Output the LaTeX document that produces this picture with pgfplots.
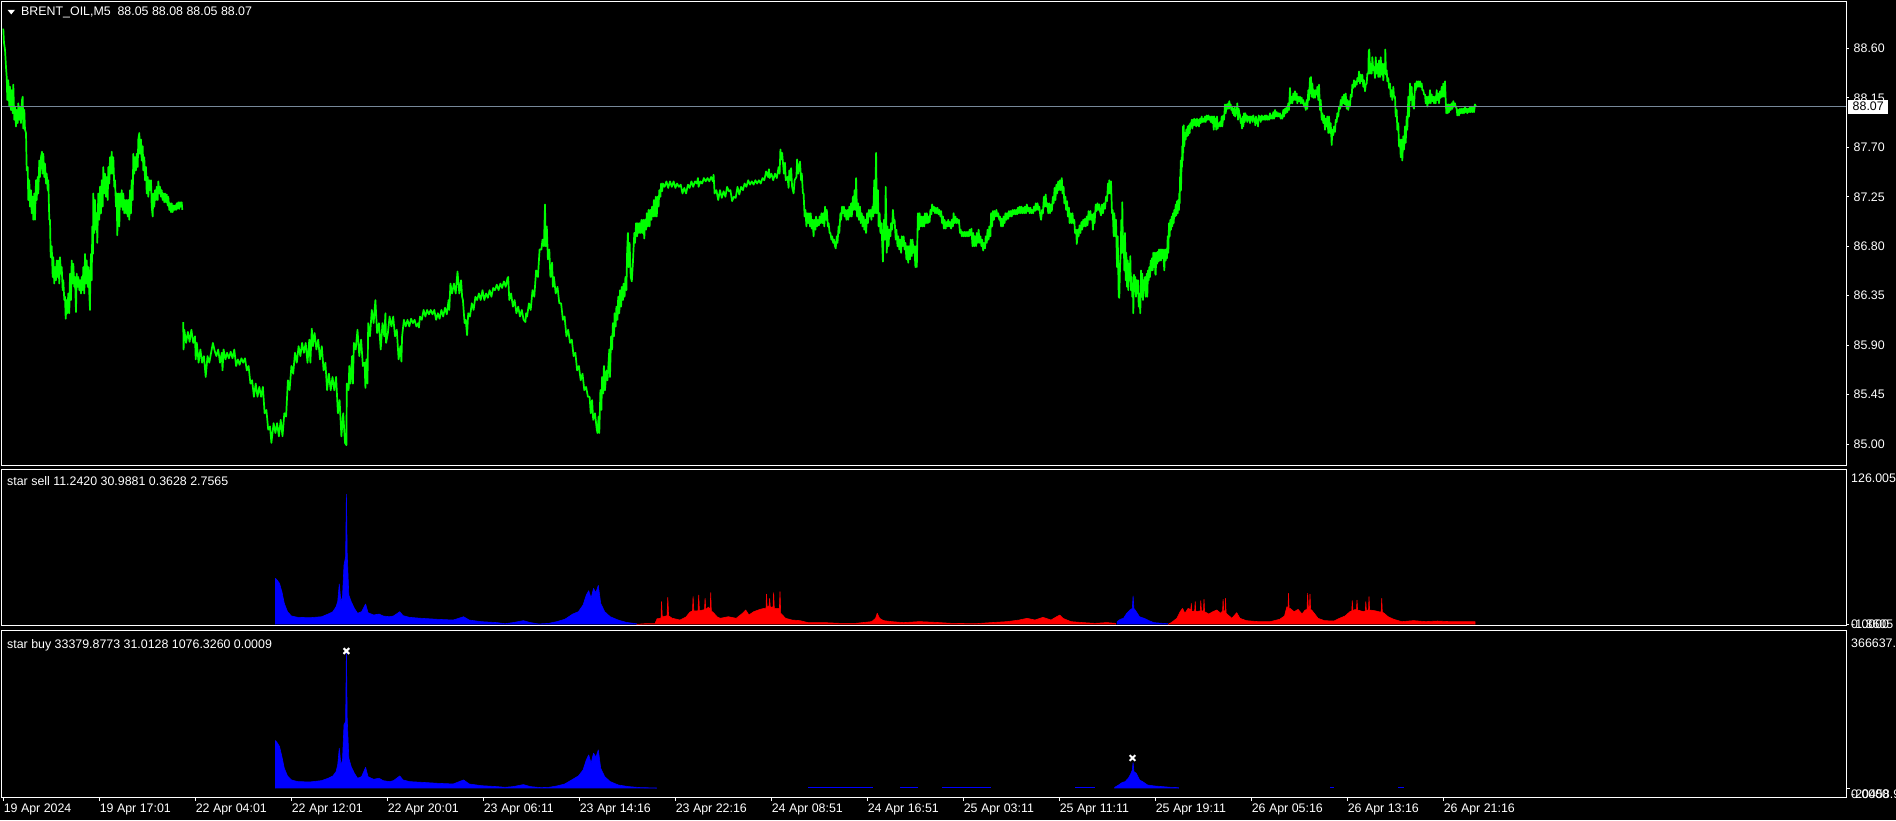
\documentclass[border=0pt]{standalone}
\usepackage{fontspec}
\setmainfont{Liberation Sans}
\usepackage{pgfplots}
\pgfplotsset{compat=1.18}
\definecolor{mtgreen}{RGB}{0,255,0}
\definecolor{mtblue}{RGB}{0,0,255}
\definecolor{mtred}{RGB}{255,0,0}
\definecolor{bidgray}{RGB}{119,136,153}
\newcommand\mtfont{\fontsize{12.4}{14}\selectfont}

\pgfplotsset{
  mtpanel/.style={
    scale only axis, width=1844pt, xmin=2, xmax=1846,
    axis line style={white, line width=1pt},
    axis background/.style={fill=black},
    tick style={white, line width=0.8pt},
    major tick length=3pt, tick align=outside,
    ytick pos=right, yticklabel pos=right, xtick=\empty,
    scaled y ticks=false,
    clip mode=individual,
    tick label style={font=\mtfont, text=white},
    yticklabel style={anchor=west, inner sep=0pt, xshift=4.5pt},
  },
}

\begin{document}
\begin{tikzpicture}
\useasboundingbox (0,0) rectangle (1896pt,820pt);
\fill[black] (0,0) rectangle (1896pt,820pt);

% ---------- price panel ----------
\begin{axis}[mtpanel, at={(2pt,354pt)}, anchor=south west, height=464pt,
    ymin=84.80, ymax=89.022,
    ytick={85.00,85.45,85.90,86.35,86.80,87.25,87.70,88.15,88.60},
    yticklabel style={/pgf/number format/fixed, /pgf/number format/fixed zerofill,
      /pgf/number format/precision=2, /pgf/number format/assume math mode=true}]
\addplot[mtgreen, line width=1.7pt, line join=round] coordinates {
(3.3,88.78)(4.0,88.65)(5.0,88.59)(6.0,88.43)(6.7,88.34)(7.3,88.13)(8.3,88.31)(9.3,88.07)(10.0,88.25)(11.0,88.04)(11.7,88.22)(12.7,88.01)(13.3,88.27)(14.3,87.95)(15.0,88.07)(16.0,87.89)(16.7,88.04)(17.7,87.92)(18.3,88.10)(19.3,87.95)(20.0,88.07)(21.0,87.92)(22.0,88.13)(22.7,88.16)(23.3,87.87)(24.3,88.04)(25.0,87.86)(26.0,87.83)(26.7,87.49)(27.7,87.52)(28.3,87.22)(29.3,87.40)(30.0,87.16)(31.0,87.31)(31.7,87.10)(32.7,87.25)(33.3,87.04)(34.3,87.28)(35.0,87.04)(36.0,87.40)(36.7,87.22)(37.7,87.43)(38.3,87.28)(39.3,87.58)(40.0,87.43)(41.0,87.61)(42.0,87.66)(42.7,87.46)(43.3,87.64)(44.3,87.43)(45.0,87.55)(46.0,87.37)(46.7,87.46)(47.7,87.31)(48.3,87.40)(49.3,87.04)(50.0,87.04)(50.7,86.70)(51.7,86.80)(52.7,86.52)(53.3,86.70)(54.3,86.46)(55.0,86.61)(56.0,86.49)(56.7,86.67)(57.7,86.52)(58.3,86.67)(59.3,86.46)(60.0,86.70)(61.0,86.55)(61.7,86.61)(62.7,86.40)(63.3,86.49)(64.3,86.31)(65.0,86.34)(65.7,86.14)(66.7,86.31)(67.3,86.19)(68.3,86.37)(69.3,86.19)(70.0,86.55)(71.0,86.31)(71.7,86.67)(72.7,86.46)(73.3,86.64)(74.3,86.43)(75.0,86.52)(76.0,86.20)(76.7,86.55)(77.7,86.43)(78.3,86.52)(79.3,86.40)(80.0,86.49)(81.0,86.37)(81.7,86.52)(82.7,86.40)(83.3,86.61)(84.3,86.37)(85.0,86.73)(86.0,86.46)(86.7,86.67)(87.7,86.43)(88.3,86.61)(89.3,86.37)(90.0,86.22)(90.3,86.52)(91.0,86.73)(91.7,86.49)(92.3,86.98)(93.0,86.73)(93.3,87.28)(94.3,86.92)(95.0,87.22)(96.0,86.95)(96.7,87.10)(97.3,86.83)(98.3,87.28)(99.3,87.04)(100.0,87.34)(101.0,87.10)(101.7,87.40)(102.7,87.16)(103.3,87.52)(104.3,87.28)(105.0,87.46)(106.0,87.25)(106.7,87.43)(107.7,87.22)(108.3,87.52)(109.3,87.37)(110.0,87.61)(111.0,87.46)(111.7,87.66)(112.7,87.46)(113.3,87.61)(114.3,87.34)(115.0,87.40)(116.0,87.16)(116.7,87.28)(117.3,86.90)(118.3,87.28)(119.3,86.98)(120.0,87.28)(121.0,87.16)(121.7,87.31)(122.7,87.13)(123.3,87.28)(124.3,87.10)(125.0,87.22)(126.0,87.10)(126.7,87.22)(127.7,87.07)(128.3,87.22)(129.3,87.04)(130.0,87.31)(131.0,87.10)(131.7,87.40)(132.7,87.22)(133.3,87.64)(134.3,87.46)(135.0,87.61)(136.0,87.49)(136.7,87.64)(137.7,87.52)(138.3,87.77)(139.3,87.83)(140.0,87.64)(141.0,87.77)(141.7,87.58)(142.7,87.71)(143.3,87.49)(144.3,87.61)(145.0,87.40)(146.0,87.52)(146.7,87.28)(147.7,87.43)(148.3,87.25)(149.3,87.40)(150.0,87.31)(151.0,87.40)(151.7,87.16)(152.7,87.07)(153.3,87.28)(154.3,87.16)(155.0,87.31)(156.0,87.22)(156.7,87.34)(157.7,87.22)(158.3,87.39)(159.3,87.28)(160.0,87.34)(161.0,87.25)(161.7,87.31)(162.7,87.22)(163.3,87.28)(164.3,87.20)(165.0,87.28)(166.0,87.20)(166.7,87.27)(167.7,87.17)(168.3,87.25)(169.3,87.13)(170.0,87.19)(171.0,87.11)(171.7,87.19)(172.7,87.11)(173.3,87.17)(174.3,87.13)(175.0,87.17)(176.0,87.13)(176.7,87.19)(177.7,87.14)(178.3,87.20)(179.3,87.14)(180.0,87.20)(181.0,87.16)(181.7,87.20)(182.3,87.13)
};
\addplot[mtgreen, line width=1.7pt, line join=round] coordinates {
(183.2,86.11)(183.6,85.86)(184.3,86.04)(186.1,85.92)(187.9,86.02)(189.6,85.93)(191.4,86.04)(193.2,85.92)(195.0,85.98)(195.7,85.77)(196.8,85.92)(198.6,85.74)(200.4,85.86)(202.1,85.74)(203.9,85.80)(205.7,85.61)(207.5,85.80)(209.3,85.74)(211.1,85.83)(212.9,85.92)(214.6,85.85)(216.4,85.80)(218.2,85.86)(220.0,85.74)(221.8,85.83)(222.5,85.67)(223.6,85.86)(225.4,85.77)(227.1,85.83)(228.9,85.78)(230.7,85.84)(232.5,85.78)(234.3,85.86)(236.1,85.71)(237.9,85.77)(239.6,85.72)(241.4,85.78)(243.2,85.74)(245.0,85.78)(246.8,85.67)(248.6,85.71)(250.4,85.55)(252.1,85.58)(253.9,85.43)(255.7,85.55)(257.5,85.43)(259.3,85.52)(261.1,85.43)(262.9,85.52)(264.6,85.28)(266.4,85.31)(268.2,85.13)(270.0,85.16)(271.4,85.01)(273.6,85.19)(275.4,85.10)(277.1,85.19)(278.9,85.07)(280.7,85.22)(282.5,85.07)(284.3,85.28)(286.1,85.25)(287.9,85.58)(289.6,85.49)(291.4,85.71)(293.2,85.64)(295.0,85.83)(296.8,85.74)(298.6,85.89)(300.4,85.80)(302.1,85.92)(303.9,85.83)(305.7,85.92)(307.5,85.74)(309.3,85.95)(310.4,85.74)(311.8,86.05)(312.9,85.89)(314.6,86.01)(316.4,85.86)(318.2,85.95)(320.0,85.77)(321.8,85.89)(323.6,85.67)(325.4,85.74)(327.1,85.49)(328.9,85.64)(330.7,85.49)(332.5,85.61)(334.3,85.49)(336.1,85.61)(337.9,85.28)(339.6,85.40)(341.4,85.07)(343.2,85.28)(345.0,85.01)(346.4,84.99)(346.8,85.55)(348.6,85.49)(349.3,85.71)(350.4,85.55)(352.1,85.80)(352.9,85.55)(353.9,85.92)(355.7,85.86)(357.5,86.04)(359.3,85.80)(361.1,85.95)(362.9,85.71)(364.6,85.74)(365.4,85.51)(366.4,85.77)(367.5,85.55)(368.2,86.10)(370.0,85.98)(371.8,86.22)(373.6,86.10)(375.4,86.31)(377.1,86.01)(378.9,86.10)(380.7,85.86)(382.5,86.10)(384.3,85.98)(385.4,86.19)(386.1,85.92)(387.9,86.01)(389.6,86.16)(391.4,86.07)(393.2,86.16)(395.0,85.98)(396.8,86.04)(398.6,85.77)(400.4,85.89)(401.4,85.75)(402.1,85.98)(403.9,86.13)(405.7,86.07)(407.5,86.13)(409.3,86.07)(411.1,86.14)(412.9,86.10)(414.6,86.13)(416.4,86.07)(418.2,86.10)(418.9,86.06)(420.0,86.16)(421.8,86.13)(423.6,86.22)(425.4,86.16)(427.1,86.22)(428.9,86.18)(430.7,86.22)(432.5,86.18)(434.3,86.22)(436.1,86.13)(437.9,86.19)(439.6,86.14)(441.4,86.22)(443.2,86.16)(445.0,86.24)(446.8,86.18)(448.6,86.31)(449.3,86.22)(450.4,86.46)(452.1,86.37)(453.9,86.46)(455.7,86.37)(457.5,86.57)(459.3,86.37)(461.1,86.49)(462.1,86.34)(462.9,86.31)(464.6,86.10)(465.7,86.13)(467.1,85.99)(468.2,86.19)(470.0,86.16)(471.8,86.28)(473.6,86.22)(475.4,86.34)(477.1,86.31)(478.9,86.37)(480.7,86.31)(482.5,86.40)(484.3,86.31)(486.1,86.37)(487.9,86.33)(489.6,86.40)(491.4,86.34)(493.2,86.42)(495.0,86.40)(496.8,86.45)(498.6,86.40)(500.4,86.46)(502.1,86.42)(503.9,86.48)(505.7,86.43)(507.5,86.51)(508.2,86.52)(509.3,86.31)(511.1,86.37)(512.9,86.25)(514.6,86.31)(516.4,86.19)(518.2,86.25)(520.0,86.16)(521.8,86.22)(523.6,86.13)(525.4,86.11)(526.1,86.19)(527.1,86.16)(528.9,86.28)(530.7,86.22)(532.5,86.40)(534.3,86.34)(536.1,86.58)(537.9,86.52)(539.6,86.77)(541.4,86.77)(542.5,86.86)(543.9,86.80)(545.0,87.18)(545.7,86.80)(546.8,86.98)(547.9,86.68)(549.3,86.77)(550.4,86.52)(552.1,86.65)(552.9,86.43)(553.9,86.52)(555.7,86.37)(557.5,86.43)(559.3,86.28)(561.1,86.28)(562.9,86.13)(564.6,86.16)(566.4,85.98)(568.2,86.04)(570.0,85.92)(571.8,85.95)(573.6,85.80)(575.4,85.83)(577.1,85.67)(578.9,85.71)(580.7,85.58)(582.5,85.64)(584.3,85.49)(586.1,85.52)(587.9,85.43)(589.6,85.43)(590.7,85.28)(592.1,85.40)(593.2,85.22)(595.0,85.28)(596.8,85.13)(597.5,85.10)(598.6,85.25)(599.3,85.10)(600.4,85.49)(601.4,85.31)(602.1,85.61)(603.2,85.46)(603.9,85.71)(605.0,85.49)(606.4,85.67)(607.5,85.58)(609.3,85.86)(610.0,85.61)(611.1,85.98)(612.1,85.86)(612.9,86.10)(614.0,85.98)(614.6,86.19)(615.7,86.07)(616.4,86.25)(617.5,86.13)(618.2,86.34)(619.3,86.19)(620.0,86.40)(621.1,86.25)(621.8,86.43)(622.9,86.31)(623.6,86.46)(624.6,86.34)(625.4,86.52)(626.4,86.40)(627.1,86.74)(627.9,86.92)(628.6,86.61)(629.6,86.83)(630.7,86.52)(631.8,86.48)(632.9,86.65)(634.3,86.92)(635.0,86.83)(636.1,87.01)(637.1,86.89)(637.9,87.01)(638.9,86.92)(639.6,87.01)(640.7,86.92)(641.4,87.04)(642.5,86.92)(643.2,87.04)(644.3,86.87)(645.0,87.04)(646.1,86.95)(646.8,87.10)(647.9,86.98)(648.6,87.13)(649.6,86.98)(650.4,87.13)(651.4,87.04)(652.1,87.16)(653.2,87.07)(653.9,87.22)(655.0,87.07)(655.7,87.25)(656.8,87.07)(657.5,87.25)(658.6,87.16)(659.3,87.31)(660.4,87.25)(661.1,87.37)(662.1,87.30)(662.9,87.37)(664.6,87.34)(666.4,87.39)(668.2,87.33)(670.0,87.39)(671.8,87.34)(673.6,87.39)(675.4,87.33)(677.1,87.37)(678.9,87.34)(680.7,87.36)(682.5,87.28)(684.3,87.33)(686.1,87.28)(687.9,87.36)(689.6,87.33)(691.4,87.39)(693.2,87.34)(695.0,87.39)(696.8,87.37)(697.9,87.42)(698.6,87.34)(700.4,87.39)(702.1,87.37)(703.9,87.42)(705.7,87.39)(707.5,87.42)(709.3,87.39)(711.1,87.43)(712.9,87.39)(713.6,87.45)(714.6,87.28)(716.4,87.31)(718.2,87.22)(720.0,87.31)(721.8,87.24)(723.6,87.30)(725.4,87.25)(727.1,87.34)(728.9,87.30)
(730.4,87.31)(732.1,87.21)(733.9,87.25)(735.7,87.24)(737.5,87.34)(739.3,87.27)(741.1,87.34)(742.9,87.31)(744.6,87.37)(746.4,87.34)(748.2,87.40)(750.0,87.36)(751.8,87.39)(753.6,87.36)(755.4,87.40)(757.1,87.37)(758.9,87.40)(760.7,87.37)(762.5,87.42)(764.3,87.40)(766.1,87.48)(767.9,87.43)(768.9,87.50)(769.6,87.42)(771.4,87.46)(773.2,87.40)(775.0,87.46)(776.8,87.42)(778.6,87.52)(779.6,87.46)(780.4,87.68)(781.4,87.59)(782.1,87.65)(783.9,87.46)(785.0,87.56)(785.7,87.40)(787.5,87.43)(788.6,87.33)(789.3,87.49)(790.4,87.40)(791.1,87.51)(792.1,87.34)(793.6,87.28)(794.6,87.40)(796.4,87.43)(797.1,87.59)(798.2,87.46)(800.0,87.57)(801.1,87.40)(801.8,87.46)(802.9,87.28)(803.6,87.28)(804.6,87.07)(805.4,87.13)(806.4,86.98)(807.1,87.10)(808.2,87.01)(808.9,87.10)(810.0,86.98)(810.7,87.10)(811.8,86.96)(812.5,87.04)(813.6,86.89)(814.3,87.04)(815.4,86.95)(816.1,87.07)(817.1,86.98)(817.9,87.04)(818.9,86.99)(819.6,87.07)(820.7,87.01)(821.4,87.10)(822.5,87.01)(823.2,87.10)(824.3,86.98)(825.0,87.16)(826.1,87.04)(826.8,87.13)(827.9,86.98)(828.6,87.01)(829.6,86.92)(830.4,86.92)(831.4,86.86)(832.1,86.89)(833.2,86.83)(833.9,86.86)(835.0,86.80)(835.7,86.78)(836.8,86.89)(837.5,86.83)(838.6,86.98)(839.3,86.92)(840.4,87.10)(841.1,87.04)(842.1,87.16)(842.9,87.10)(843.9,87.16)(844.6,87.07)(845.7,87.13)(846.4,87.04)(847.5,87.13)(848.2,87.04)(849.3,87.16)(850.0,87.07)(851.1,87.19)(851.8,87.07)(852.9,87.25)(853.6,87.13)(854.6,87.31)(855.4,87.13)(856.1,87.42)(857.1,87.07)(858.2,87.19)(858.9,87.04)(860.0,87.16)(860.7,87.01)(861.8,87.10)(862.5,86.98)(863.6,87.07)(864.3,86.95)(865.4,87.04)(866.1,86.92)(867.1,87.10)(867.9,87.01)(868.9,87.13)(869.6,87.07)(870.7,87.13)(871.4,87.04)(872.5,87.16)(873.2,87.07)(874.3,87.40)(875.0,87.10)(876.1,87.65)(876.8,87.10)(877.9,87.31)(878.6,86.98)(879.6,87.10)(880.4,86.92)(881.4,87.01)(882.9,86.66)(883.9,87.04)(885.0,86.86)(885.7,87.34)(886.8,86.74)(887.5,86.98)(888.6,86.80)(889.3,86.95)(890.4,86.89)(891.1,87.01)(892.1,86.95)(892.9,87.13)(893.9,87.01)(894.6,87.04)(895.7,86.86)(896.4,86.95)(897.5,86.80)(898.2,86.89)(899.3,86.77)(900.0,86.86)(901.1,86.74)(901.8,86.89)(902.9,86.80)(903.6,86.89)(904.6,86.77)(905.4,86.83)(906.4,86.68)(907.1,86.80)(908.2,86.65)(908.9,86.80)(910.0,86.68)(910.7,86.86)(911.8,86.71)(912.5,86.86)(913.6,86.74)(914.3,86.80)(915.4,86.61)(916.1,86.80)(916.8,86.61)(917.9,87.10)(918.9,86.95)(919.6,87.10)(920.7,86.98)(921.4,87.07)(922.5,86.98)(923.2,87.07)(924.3,86.98)(925.0,87.10)(926.1,87.01)(926.8,87.10)(927.9,87.01)(928.6,87.07)(929.6,87.02)(930.4,87.13)(931.4,87.09)(932.1,87.18)(933.2,87.12)(933.9,87.16)(935.0,87.10)(935.7,87.15)(936.8,87.10)(937.5,87.15)(938.6,87.09)(939.3,87.13)(940.4,87.07)(941.1,87.12)(942.1,87.01)(942.9,87.07)(943.9,86.96)(944.6,87.04)(945.7,86.96)(946.4,87.02)(947.5,86.98)(948.2,87.04)(949.3,86.98)(950.0,87.02)(951.1,86.96)(951.8,87.04)(952.9,86.98)(953.6,87.10)(954.6,87.01)(955.4,87.07)(956.4,87.01)(957.1,87.05)(958.2,87.01)(958.9,87.04)(960.0,86.92)(960.7,86.95)(961.8,86.89)(962.5,86.93)(963.6,86.89)(964.3,86.93)(965.4,86.89)(966.1,86.93)(967.1,86.89)(967.9,86.93)(968.9,86.89)(969.6,86.95)(970.7,86.90)(971.4,86.96)(972.5,86.80)(973.2,86.92)(974.3,86.80)(975.0,86.89)(976.1,86.80)(976.8,86.92)(977.9,86.83)(978.6,86.95)(979.6,86.83)(980.4,86.89)(981.4,86.80)(982.1,86.86)(983.2,86.76)(983.9,86.83)(985.0,86.78)(985.7,86.89)(986.8,86.83)(987.5,86.95)(988.6,86.86)(989.3,86.98)(990.4,86.89)(991.1,87.10)(992.1,86.98)(992.9,87.12)(993.9,87.04)(994.6,87.12)(995.7,87.07)(996.4,87.13)(997.5,87.07)(998.2,87.10)(999.3,87.04)(1000.0,87.07)(1001.1,86.98)(1001.8,87.05)(1002.9,86.98)(1003.6,87.07)(1004.6,87.01)(1005.4,87.10)(1006.4,87.04)(1007.1,87.10)(1008.2,87.05)(1008.9,87.12)(1010.0,87.07)(1010.7,87.12)(1011.8,87.07)(1012.5,87.13)(1013.6,87.09)(1014.3,87.13)(1015.4,87.09)(1016.1,87.13)(1017.1,87.09)(1017.9,87.15)(1018.9,87.10)(1019.6,87.16)(1020.7,87.10)(1021.4,87.16)(1022.5,87.10)(1023.2,87.15)(1024.3,87.10)(1025.0,87.16)(1026.1,87.10)(1026.8,87.18)(1027.9,87.12)(1028.6,87.15)(1029.6,87.10)(1030.4,87.15)(1031.4,87.10)(1032.1,87.13)(1033.2,87.10)(1033.9,87.16)(1035.0,87.12)(1035.7,87.19)(1036.8,87.13)(1037.5,87.19)(1038.6,87.13)(1039.3,87.16)(1040.4,87.07)(1041.1,87.04)(1042.1,87.13)(1042.9,87.10)(1043.9,87.25)(1044.6,87.16)(1045.7,87.27)(1046.4,87.16)(1047.5,87.19)(1048.2,87.10)(1049.3,87.19)(1050.0,87.10)(1051.1,87.18)(1051.8,87.12)(1052.9,87.25)(1053.6,87.19)(1054.6,87.33)(1055.4,87.22)(1056.4,87.36)(1057.1,87.28)(1058.2,87.39)(1058.9,87.31)(1060.0,87.40)(1060.7,87.31)(1061.8,87.42)(1062.5,87.28)(1063.6,87.34)(1064.3,87.19)(1065.4,87.25)(1066.1,87.13)(1067.1,87.21)(1067.9,87.07)(1068.9,87.15)(1069.6,87.01)(1070.7,87.10)(1071.4,87.01)(1072.5,87.10)(1073.2,87.01)(1074.3,87.04)(1075.0,86.92)(1076.1,86.95)(1076.8,86.82)(1077.9,86.95)(1078.6,86.89)(1079.6,86.99)(1080.4,86.92)(1081.4,87.02)(1082.1,86.95)(1083.2,87.04)(1083.9,86.98)(1085.0,87.05)(1085.7,86.98)(1086.8,87.07)(1087.5,86.99)(1088.6,87.12)(1089.3,87.04)(1090.4,87.12)(1091.1,87.04)(1092.1,87.09)(1092.9,86.95)(1093.9,87.10)(1094.6,87.01)(1095.7,87.18)(1096.4,87.12)(1097.5,87.19)(1098.2,87.13)(1099.3,87.18)(1100.0,87.12)
(1101.0,87.08)(1102.0,87.18)(1103.0,87.10)(1104.0,87.19)(1105.0,87.14)(1106.0,87.25)(1107.0,87.21)(1108.0,87.37)(1108.7,87.28)(1109.3,87.40)(1110.3,87.28)(1111.0,87.39)(1112.0,87.10)(1112.7,87.13)(1113.7,86.89)(1114.3,87.10)(1115.3,86.89)(1116.0,87.04)(1117.0,86.61)(1117.7,86.89)(1118.7,86.34)(1119.3,86.33)(1120.0,86.61)(1120.7,86.74)(1121.3,87.04)(1122.0,86.74)(1122.3,87.20)(1123.0,86.74)(1123.7,86.89)(1124.3,86.58)(1125.0,86.92)(1125.7,86.49)(1126.3,86.74)(1127.0,86.43)(1127.7,86.67)(1128.3,86.40)(1129.0,86.64)(1129.7,86.49)(1130.3,86.71)(1131.0,86.40)(1131.7,86.52)(1132.3,86.34)(1133.0,86.46)(1133.3,86.19)(1134.0,86.54)(1134.7,86.43)(1135.3,86.52)(1136.0,86.34)(1136.7,86.49)(1137.3,86.37)(1138.0,86.49)(1138.7,86.25)(1139.3,86.37)(1140.3,86.19)(1141.0,86.58)(1141.7,86.34)(1142.3,86.55)(1143.0,86.31)(1143.7,86.49)(1144.3,86.40)(1145.0,86.52)(1145.7,86.34)(1146.7,86.55)(1147.3,86.34)(1148.0,86.58)(1148.7,86.49)(1149.3,86.61)(1150.0,86.52)(1150.7,86.67)(1151.3,86.58)(1152.0,86.69)(1152.7,86.58)(1153.3,86.74)(1154.0,86.61)(1154.7,86.74)(1155.3,86.55)(1155.7,86.54)(1156.3,86.74)(1157.0,86.64)(1157.7,86.75)(1158.3,86.66)(1159.0,86.77)(1159.7,86.67)(1160.3,86.77)(1161.0,86.67)(1161.7,86.77)(1162.3,86.69)(1163.0,86.77)(1163.7,86.67)(1164.3,86.58)(1165.0,86.77)(1165.7,86.67)(1166.3,86.77)(1167.0,86.69)(1167.7,86.89)(1168.3,86.74)(1169.0,87.01)(1169.7,86.89)(1170.3,87.04)(1171.0,86.95)(1171.7,87.07)(1172.3,86.98)(1173.0,87.10)(1173.7,87.01)(1174.3,87.13)(1175.0,87.07)(1175.7,87.18)(1176.3,87.08)(1177.0,87.21)(1177.7,87.10)(1178.3,87.22)(1179.0,87.13)(1179.3,87.28)(1179.7,87.19)(1180.0,87.43)(1180.3,87.30)(1180.7,87.58)(1181.0,87.31)(1181.7,87.61)(1182.0,87.52)(1182.3,87.71)(1182.7,87.58)(1183.0,87.89)(1183.3,87.65)(1183.7,87.90)(1184.3,87.71)(1185.0,87.83)(1185.7,87.77)(1186.3,87.86)(1187.0,87.80)(1187.7,87.89)(1188.3,87.81)(1189.0,87.90)(1189.7,87.83)(1190.3,87.92)(1191.0,87.89)(1191.7,87.95)(1192.3,87.87)(1193.0,87.95)(1193.7,87.90)(1194.3,87.96)(1195.0,87.90)(1195.7,87.95)(1196.3,87.89)(1197.0,87.96)(1197.7,87.90)(1198.3,87.95)(1199.0,87.89)(1200.0,87.96)(1200.7,87.92)(1201.7,87.98)(1202.3,87.93)(1203.3,87.96)(1204.0,87.93)(1205.0,87.98)(1205.7,87.93)(1206.7,87.99)(1207.3,87.95)(1208.3,87.99)(1209.0,87.95)(1210.0,87.98)(1210.7,87.93)(1211.7,87.98)(1212.3,87.92)(1213.0,87.98)(1213.7,87.86)(1214.3,87.98)(1215.0,87.89)(1215.7,87.96)(1216.3,87.86)(1217.0,87.98)(1217.7,87.87)(1218.3,87.92)(1219.0,87.89)(1220.0,87.93)(1220.7,87.89)(1221.7,87.98)(1222.3,87.89)(1223.3,87.99)(1224.0,87.95)(1225.0,88.09)(1225.7,88.01)(1226.7,88.09)(1227.3,88.05)(1228.3,88.10)(1229.0,88.05)(1229.3,88.12)(1230.0,88.07)(1230.7,88.09)(1231.3,88.04)(1232.0,88.07)(1232.7,88.01)(1233.3,88.05)(1234.0,87.99)(1234.7,88.07)(1235.3,87.98)(1236.0,88.04)(1236.7,88.01)(1237.3,88.10)(1238.0,87.95)(1238.7,88.05)(1239.3,88.01)(1240.0,87.99)(1240.7,87.92)(1241.3,87.96)(1242.0,87.87)(1242.7,87.98)(1243.3,87.89)(1244.0,88.01)(1244.7,87.93)(1245.3,88.01)(1246.0,87.95)(1246.7,87.99)(1247.3,87.93)(1248.0,87.98)(1248.7,87.95)(1249.3,87.98)(1250.0,87.92)(1250.7,87.98)(1251.3,87.95)(1252.0,87.98)(1252.7,87.93)(1253.3,87.99)(1254.0,87.95)(1254.7,87.96)(1255.3,87.90)(1256.0,87.98)(1256.7,87.92)(1257.3,87.95)(1258.0,87.89)(1258.7,87.99)(1259.3,87.95)(1260.0,87.98)(1260.7,87.93)(1261.7,87.99)(1262.3,87.95)(1263.3,87.98)(1264.0,87.95)(1265.0,87.99)(1265.7,87.95)(1266.7,87.99)(1267.3,87.95)(1268.3,87.98)(1269.0,87.95)(1270.0,88.01)(1270.7,87.96)(1271.7,87.99)(1272.3,87.96)(1273.3,88.02)(1274.0,87.96)(1275.0,88.04)(1275.7,87.98)(1276.7,88.02)(1277.3,87.98)(1278.3,88.01)(1279.0,87.98)(1280.0,88.01)(1280.7,87.96)(1281.7,87.99)(1282.3,87.96)(1283.3,88.04)(1284.0,87.98)(1285.0,88.05)(1285.7,88.01)(1286.7,88.07)(1287.3,88.02)(1288.3,88.10)(1289.0,88.04)(1290.0,88.24)(1290.7,88.10)(1291.7,88.16)(1292.3,88.10)(1293.3,88.19)(1294.0,88.13)(1295.0,88.21)(1295.7,88.13)(1296.7,88.19)(1297.3,88.10)(1298.3,88.16)(1299.0,88.12)(1300.0,88.16)(1300.7,88.10)(1301.7,88.15)(1302.3,88.10)(1303.3,88.13)(1304.0,88.07)(1305.0,88.10)(1305.7,88.04)(1306.7,88.13)(1307.3,88.05)(1308.3,88.22)(1309.0,88.13)(1310.0,88.33)(1310.7,88.19)(1311.0,88.34)(1311.7,88.16)(1312.3,88.28)(1313.3,88.15)(1314.0,88.22)(1315.0,88.15)(1315.7,88.22)(1316.7,88.18)(1317.3,88.25)(1318.3,88.13)(1319.0,88.27)(1320.0,88.04)(1320.7,88.13)(1321.7,87.95)(1322.3,88.01)(1323.3,87.92)(1324.0,87.99)(1325.0,87.86)(1325.7,87.96)(1326.7,87.89)(1327.3,87.98)(1328.3,87.83)(1329.0,87.98)(1330.0,87.83)(1330.7,87.92)(1331.7,87.72)(1332.3,87.86)(1333.3,87.81)(1334.0,87.89)(1335.0,87.84)(1335.7,87.95)(1336.7,87.93)(1337.3,88.01)(1338.3,87.98)(1339.0,88.07)(1340.0,88.05)(1340.7,88.13)(1341.7,88.07)(1342.3,88.16)(1343.3,88.10)(1344.0,88.18)(1345.0,88.09)(1345.7,88.19)(1346.7,88.05)(1347.3,88.13)(1348.3,88.04)(1349.0,88.12)(1350.0,88.07)(1350.7,88.18)(1351.7,88.16)(1352.3,88.27)(1353.3,88.24)(1354.0,88.31)(1355.0,88.25)(1355.7,88.30)(1356.7,88.27)(1357.3,88.33)(1358.3,88.30)(1359.0,88.39)(1360.0,88.28)(1360.7,88.36)(1361.7,88.30)(1362.3,88.36)(1363.3,88.25)(1364.0,88.31)(1365.0,88.21)(1365.7,88.27)(1366.7,88.28)(1367.3,88.37)(1368.3,88.37)(1368.7,88.57)(1369.3,88.59)(1370.0,88.37)(1370.7,88.46)(1371.7,88.37)(1372.3,88.52)(1373.3,88.40)(1374.0,88.43)(1375.0,88.33)(1375.7,88.52)(1376.7,88.37)(1377.3,88.46)(1378.3,88.34)(1379.0,88.49)(1380.0,88.34)(1380.7,88.52)(1381.7,88.36)(1382.3,88.46)(1383.3,88.31)(1384.0,88.46)(1385.0,88.37)(1385.3,88.59)(1386.0,88.36)(1386.7,88.40)(1387.3,88.30)(1388.3,88.33)(1389.0,88.24)(1390.0,88.28)(1390.7,88.16)(1391.7,88.22)(1392.3,88.13)(1393.3,88.25)(1394.0,88.16)(1395.0,88.16)(1395.7,87.98)(1396.7,88.04)(1397.3,87.86)(1398.3,87.92)(1399.0,87.71)(1400.0,87.77)(1400.7,87.61)(1401.7,87.77)(1402.3,87.58)(1403.3,87.80)(1404.0,87.68)(1405.0,87.89)(1405.7,87.74)(1406.7,87.98)(1407.3,87.86)(1408.3,88.16)(1409.0,87.98)(1410.0,88.28)(1410.7,88.13)(1411.7,88.25)(1412.3,88.07)(1413.3,88.16)(1414.0,88.05)(1415.0,88.28)(1415.7,88.22)(1416.7,88.30)(1417.3,88.25)(1418.3,88.30)(1419.0,88.25)(1420.0,88.30)(1420.7,88.25)(1421.7,88.28)(1422.3,88.22)(1423.3,88.22)(1424.0,88.18)(1425.0,88.18)(1425.7,88.10)(1426.7,88.16)(1427.3,88.07)(1428.3,88.16)(1429.0,88.10)(1430.0,88.22)(1430.7,88.10)(1431.7,88.18)(1432.3,88.12)(1433.3,88.16)(1434.0,88.10)(1435.0,88.16)(1435.7,88.10)(1436.7,88.22)(1437.3,88.13)(1438.3,88.19)(1439.0,88.10)(1440.0,88.21)(1440.7,88.15)(1441.7,88.25)(1442.3,88.16)(1443.3,88.28)(1444.0,88.16)(1445.0,88.30)(1445.7,88.13)(1446.3,88.01)(1447.0,88.09)(1447.7,88.01)(1448.3,88.09)(1449.0,88.02)(1450.0,88.09)(1450.7,88.04)(1451.7,88.10)(1452.3,88.05)(1453.3,88.12)(1454.0,88.07)(1455.0,88.10)(1455.7,88.07)(1456.7,88.05)(1457.3,87.99)(1458.3,88.04)(1459.0,87.99)(1460.0,88.05)(1460.7,88.01)(1461.7,88.05)(1462.3,88.01)(1463.3,88.05)(1464.0,88.01)(1465.0,88.07)(1465.7,88.02)(1466.7,88.05)(1467.3,88.01)(1468.3,88.05)(1469.0,88.02)(1470.0,88.07)(1470.7,88.02)(1471.7,88.07)(1472.3,88.02)(1473.3,88.07)(1474.0,88.02)(1475.0,88.09)(1476.0,88.07)
};
\addplot[bidgray, line width=1pt] coordinates {(2,88.07) (1846,88.07)};
\node[fill=white, text=black, font=\mtfont, inner xsep=4.5pt, inner ysep=2.6pt, anchor=west]
  at (axis cs:1848,88.07) {88.07};
\end{axis}

% ---------- star sell panel ----------
\begin{axis}[mtpanel, at={(2pt,194pt)}, anchor=south west, height=156pt,
    ymin=-1.36, ymax=126.005, ytick={0}, yticklabels={}]
\addplot[mtblue, fill=mtblue, line width=0.6pt, line join=round] coordinates {
(275.5,0)(275.5,37.5)(277.1,36.1)(279.5,33.4)(281.9,26.6)(284.3,17.1)(287.5,10.3)(291.4,6.8)(297.8,5.7)(309.8,5.4)(321.7,6.2)(328.1,8.4)(332.9,10.3)(336.1,14.4)(337.7,18.5)(339.3,32.9)(340.9,18.5)(342.5,22.6)(344.0,48.4)(345.6,55.2)(346.4,106.2)(347.2,57.9)(348.8,23.9)(351.2,18.5)(354.4,13.0)(357.6,9.0)(361.6,10.3)(365.6,16.6)(368.0,9.5)(373.5,7.6)(379.1,8.4)(383.1,6.8)(389.5,6.2)(393.5,6.8)(399.8,10.3)(403.0,7.1)(409.4,5.7)(421.4,4.9)(437.3,4.1)(453.2,3.5)(463.6,6.2)(469.2,3.5)(481.1,2.2)(497.1,1.4)(505.0,0.5)(513.0,1.4)(523.4,3.0)(530.5,1.4)(538.5,0.3)(548.9,0.8)(556.8,2.2)(564.8,4.1)(572.8,8.4)(578.4,10.3)(583.1,15.8)(586.3,23.9)(588.7,27.4)(591.1,21.2)(593.5,29.3)(595.9,25.8)(598.3,31.8)(600.7,17.1)(604.7,10.3)(610.2,6.2)(618.2,3.5)(626.2,1.6)(636.5,0.5)(636.5,0)
};
\addplot[mtblue, fill=mtblue, line width=0.6pt, line join=round] coordinates {
(1117,0)(1117.1,2.2)(1120.3,4.1)(1123.5,4.9)(1126.7,9.0)(1129.9,11.7)(1132.3,13.0)(1133.1,23.1)(1133.9,13.0)(1136.3,10.3)(1139.5,6.2)(1144.2,4.9)(1149.0,3.0)(1153.8,1.4)(1162.6,0.8)(1168.1,0.5)(1168.1,0)
};
\addplot[mtred, fill=mtred, line width=0.6pt, line join=round] coordinates {
(636.5,0)(645,0.5)(655,0.6)(657,4.5)(661,5)(661.5,18.5)(662.3,6)(667,7)(667.8,22)(668.6,7)(672,5)(680,3.5)(686,6)(690,10)(692.5,11)(693.1,22.6)(693.8,11)(698,11)(698.7,23.9)(699.4,11)(704.5,12)(705.1,21.2)(705.8,12)(708.3,14)(710.2,12)(710.7,25.8)(711.3,11)(714,9)(717,6.2)(720.2,4.9)(728.2,6.2)(736.2,4.9)(742.5,9.0)(745.7,11.7)(748.9,7.6)(753.7,10.3)(760.1,12.2)(764.1,13)(766,13)(766.5,24.7)(767.1,14)(769,15)(769.6,21.2)(770.3,14)(773,14)(773.6,25.8)(774.3,13)(779.4,13)(780.0,26.6)(780.7,9.0)(785.6,4.9)(792.0,3.5)(800,3.0)(808,1.4)(824,1.4)(840,0.8)(855.7,0.8)(871.7,2.2)(875.6,4.9)(877.2,9.0)(879.6,4.9)(883.6,3.0)(891.6,2.2)(903.5,1.4)(919.5,2.2)(935.4,1.6)(951.4,0.8)(975.3,0.5)(991.2,1.4)(1007.2,2.2)(1019.1,3.5)(1027.1,4.9)(1035.0,3.5)(1043.0,5.7)(1051.0,3.5)(1056.6,6.2)(1059.8,7.6)(1062.9,4.9)(1070.9,2.2)(1082.9,1.4)(1094.8,0.8)(1106.8,1.4)(1115.5,0.8)(1115.5,0)
};
\addplot[mtred, fill=mtred, line width=0.6pt, line join=round] coordinates {
(1168.1,0)(1171.3,1.4)(1176.9,4.9)(1180.1,10.3)(1182.5,13.0)(1184.9,9.0)(1188.1,13.0)(1190.8,12)(1191.3,17.1)(1191.9,10.3)(1194.7,11)(1195.2,18.5)(1195.8,10.3)(1200.3,11)(1200.8,19.3)(1201.4,11)(1203.5,11)(1204.0,20.4)(1204.6,10.3)(1208.8,8.4)(1212.8,10.3)(1216.8,11.7)(1220.7,9.0)(1222.6,11)(1223.1,20.4)(1223.7,11)(1225.0,11)(1225.5,21.2)(1226.1,9.0)(1231.9,4.9)(1236.7,9.5)(1239.9,4.9)(1246.3,3.0)(1258.2,2.2)(1270.2,2.2)(1279.7,4.1)(1284.5,6.8)(1286.9,14.4)(1288.0,12)(1288.5,25.3)(1289.1,12)(1290.1,13.0)(1294.1,10.3)(1298.1,12.2)(1302.0,8.4)(1305.2,11.7)(1307.0,12)(1307.6,25.3)(1308.3,14)(1309.5,14)(1310.0,24.7)(1310.6,12)(1311.6,11.7)(1314.8,8.4)(1318.0,4.9)(1324.4,3.0)(1333.9,2.7)(1339.5,4.9)(1345.1,6.8)(1349.9,10.3)(1351.8,11)(1352.3,19.3)(1352.9,11)(1354.6,12)(1356.5,12)(1357.0,19.8)(1357.6,11.7)(1363.4,10.3)(1365.3,11)(1365.8,18.5)(1366.4,11)(1368.5,12)(1369.0,22.6)(1369.6,11.7)(1375.4,11)(1378.6,10.3)(1381.2,10)(1381.7,21.2)(1382.3,10)(1384.1,9)(1388.1,6.2)(1393.7,4.1)(1401.7,2.2)(1413.6,3.0)(1425.6,2.2)(1437.5,2.7)(1449.5,2.2)(1461.4,2.2)(1475.0,2.2)(1475.0,0)
};
\end{axis}

% ---------- star buy panel ----------
\begin{axis}[mtpanel, at={(2pt,23pt)}, anchor=south west, height=166pt,
    ymin=-20246, ymax=366637, ytick={0}, yticklabels={},
    xtick={3.6,99.6,...,1443.6}, xtick pos=left, major tick length=4pt,
    xticklabels={19 Apr 2024,19 Apr 17:01,22 Apr 04:01,22 Apr 12:01,22 Apr 20:01,23 Apr 06:11,23 Apr 14:16,23 Apr 22:16,24 Apr 08:51,24 Apr 16:51,25 Apr 03:11,25 Apr 11:11,25 Apr 19:11,26 Apr 05:16,26 Apr 13:16,26 Apr 21:16},
    xticklabel style={anchor=north west, inner sep=0pt, yshift=-2.4pt}]
\addplot[mtblue, fill=mtblue, line width=0.6pt, line join=round] coordinates {
(275.5,0)(275.5,111300)(277.1,106600)(279.5,97300)(281.9,73900)(284.3,46700)(287.5,28800)(291.4,19500)(297.8,15600)(309.8,14800)(321.7,17900)(328.1,23400)(332.9,28800)(336.1,38900)(337.7,54500)(339.3,93400)(340.9,54500)(342.5,66200)(344.0,147900)(345.6,155700)(346.4,318000)(347.2,163500)(348.8,70100)(351.2,50600)(354.4,35000)(357.6,23400)(361.6,27200)(365.6,49000)(368.0,27200)(373.5,21000)(379.1,23400)(383.1,17900)(389.5,15600)(393.5,17900)(399.8,28800)(403.0,19500)(409.4,15600)(421.4,14000)(437.3,11700)(453.2,10100)(463.6,19500)(469.2,10100)(481.1,6200)(497.1,3900)(505.0,2300)(513.0,3900)(523.4,8600)(530.5,3900)(540.9,1600)(548.9,2300)(556.8,5400)(564.8,10100)(572.8,21000)(578.4,28800)(583.1,42800)(586.3,66200)(588.7,77800)(591.1,58400)(593.5,81700)(595.9,72400)(598.3,89500)(600.7,46700)(604.7,27200)(610.2,15600)(618.2,7800)(628.6,3900)(640.5,1600)(656.5,800)(656.5,0)
};
\addplot[mtblue, fill=mtblue, line width=0.6pt, line join=round] coordinates {
(1114.7,0)(1114.7,2300)(1118.7,7800)(1121.9,13200)(1125.1,15600)(1128.3,23400)(1130.7,33500)(1132.3,42800)(1133.1,59900)(1133.9,38900)(1136.3,35000)(1139.5,19500)(1142.6,15600)(1147.4,7800)(1154.6,5400)(1162.6,3900)(1170.5,2300)(1178.5,1600)(1178.5,0)
};
\addplot[mtblue, line width=1.5pt] coordinates {(808,1500)(873,1500)};
\addplot[mtblue, line width=1.5pt] coordinates {(900,1500)(918,1500)};
\addplot[mtblue, line width=1.5pt] coordinates {(942,1500)(991,1500)};
\addplot[mtblue, line width=1.5pt] coordinates {(1075,1500)(1095,1500)};
\addplot[mtblue, line width=1.5pt] coordinates {(1330,1500)(1334,1500)};
\addplot[mtblue, line width=1.5pt] coordinates {(1398,1500)(1404,1500)};
\addplot[white, only marks, mark=x, mark size=4pt, line width=2pt] coordinates {(346.4,320000)(1132.5,70800)};
\end{axis}

% ---------- window texts ----------
\fill[white] (7.5pt,810.2pt) -- (15pt,810.2pt) -- (11.25pt,805.6pt) -- cycle;
\begin{scope}[every node/.style={font=\mtfont, text=white, inner sep=0pt, anchor=west}]
\node at (21pt,807.6pt) {BRENT\_OIL,M5\hspace{0.55em}88.05 88.08 88.05 88.07};
\node at (7pt,339.3pt) {star sell 11.2420 30.9881 0.3628 2.7565};
\node at (7pt,175pt) {star buy 33379.8773 31.0128 1076.3260 0.0009};
\node at (1851pt,341.7pt) {126.005};
\node at (1851pt,196pt) {0.0000};
\node at (1851pt,196pt) {-1.3605};
\node at (1851pt,176.7pt) {366637.5};
\node at (1851pt,26pt) {0.0000};
\node at (1851pt,26pt) {-20458.9};
\end{scope}
\end{tikzpicture}
\end{document}
